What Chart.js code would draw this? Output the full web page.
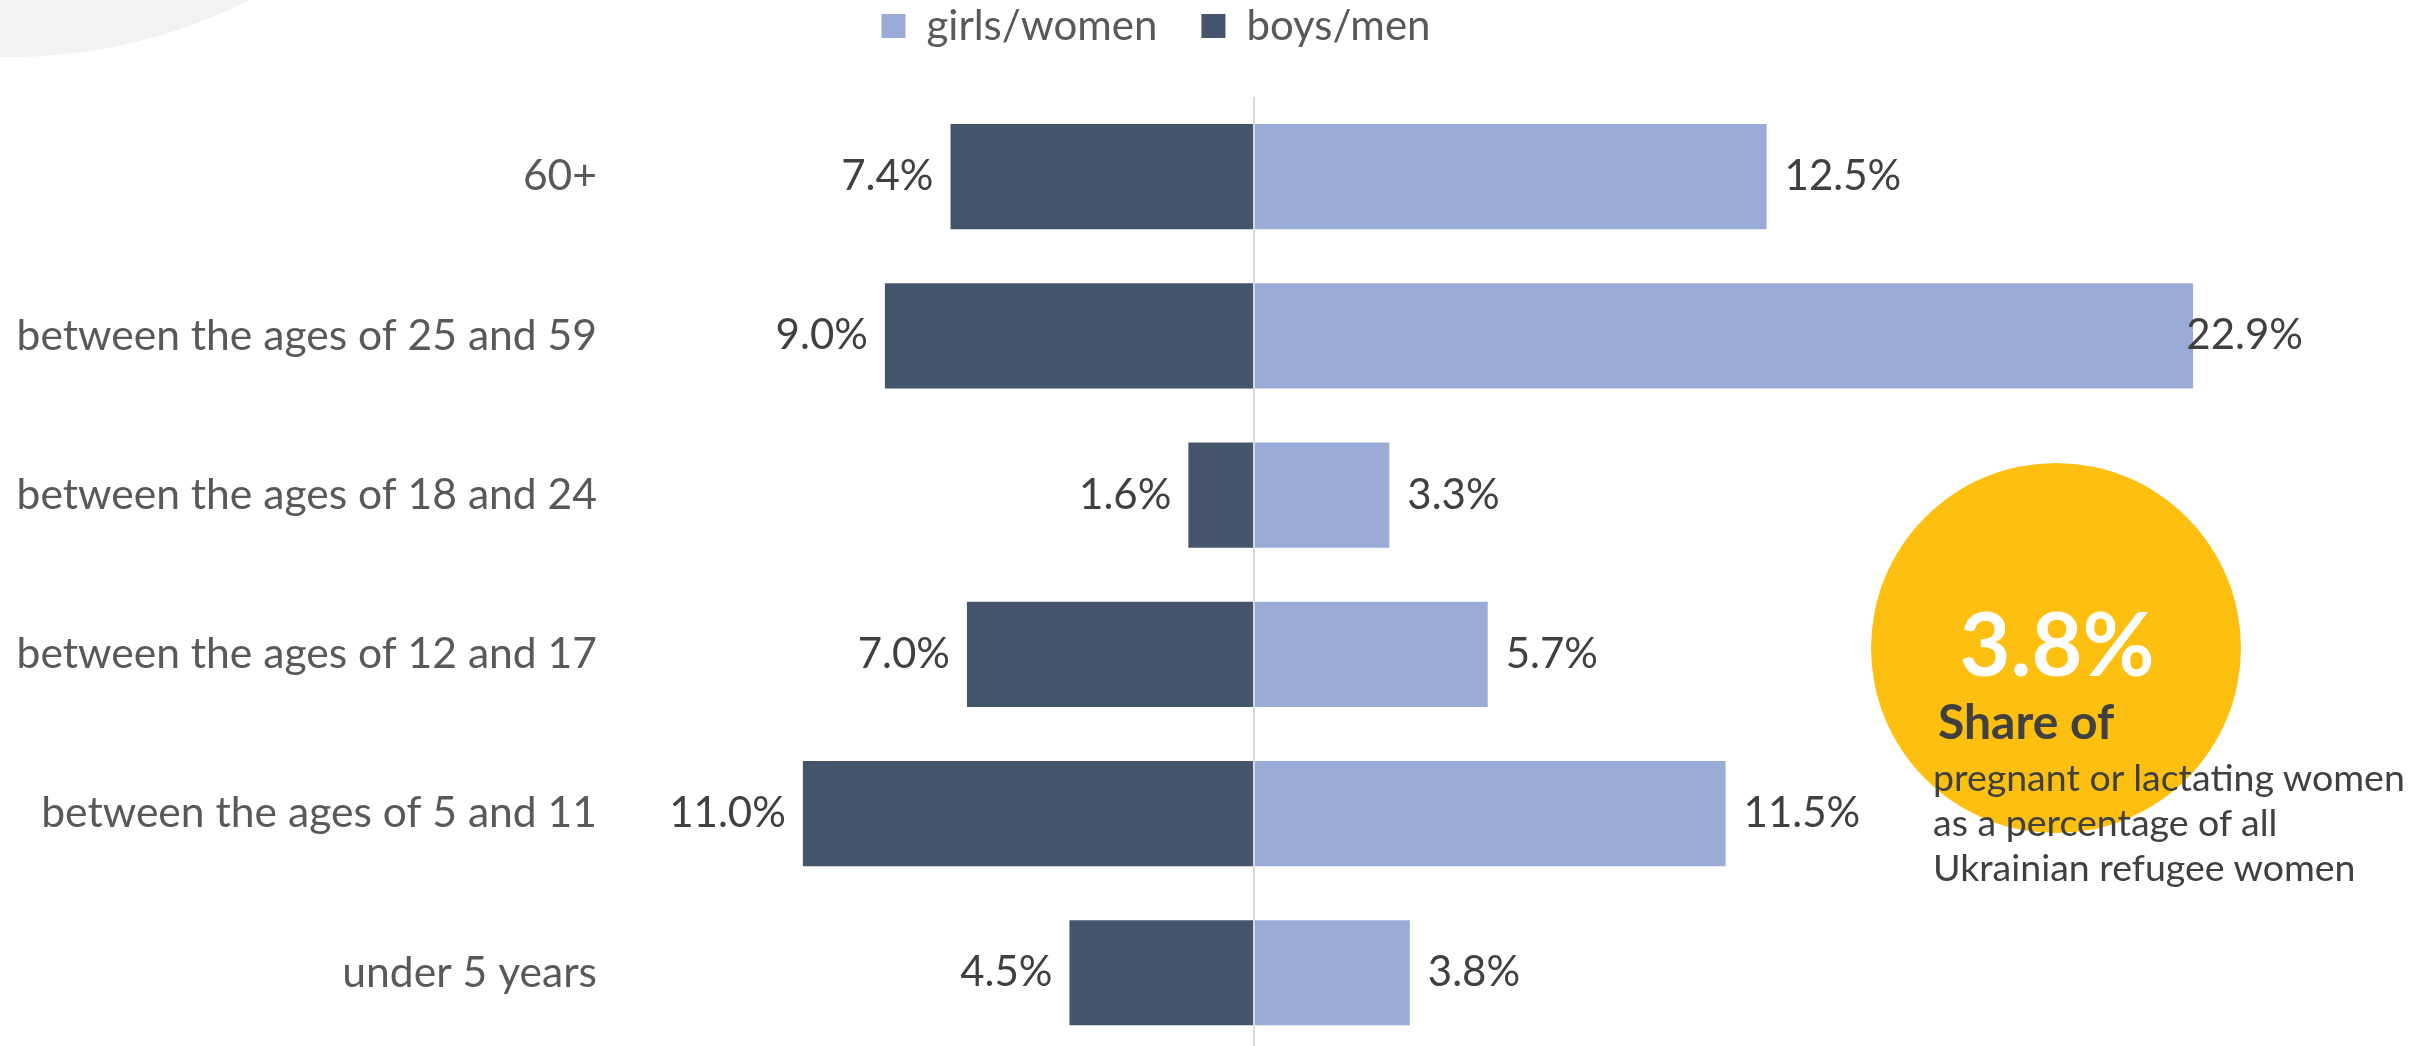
<!DOCTYPE html>
<html>
<head>
<meta charset="utf-8">
<script src="https://cdn.jsdelivr.net/npm/chart.js@4.4.1/dist/chart.umd.min.js"></script>
<style>
  html, body { margin: 0; padding: 0; background: #fff; }
  #page { position: relative; width: 2433px; height: 1046px; overflow: hidden; font-family: Lato, sans-serif; }
  #blob { position: absolute; left: -524px; top: -1011px; width: 1068px; height: 1068px; border-radius: 50%; background: #f2f2f2; }
  #chart { position: absolute; left: 0; top: 0; }
  #bubble { position: absolute; left: 1871px; top: 463px; width: 370px; height: 370px; border-radius: 50%; background: #fdbf10; }
  .note { position: absolute; white-space: nowrap; color: #404040; }
  #big { left: 1857px; top: 598px; width: 400px; text-align: center; font-size: 88px; line-height: 88px; font-weight: bold; color: #fff; }
  #share { left: 1938px; top: 697px; font-size: 48px; line-height: 48px; font-weight: bold; }
  #desc { left: 1933px; top: 754px; font-size: 37.5px; line-height: 45px; }
</style>
</head>
<body>
<div id="page">
  <div id="blob"></div>
  <canvas id="chart" width="2312" height="1101"></canvas>
  <div id="bubble"></div>
  <div class="note" id="big">3.8%</div>
  <div class="note" id="share">Share of</div>
  <div class="note" id="desc">pregnant or lactating women<br>as a percentage of all<br>Ukrainian refugee women</div>
</div>
<script>
const ageGroups = ["60+", "between the ages of 25 and 59", "between the ages of 18 and 24",
  "between the ages of 12 and 17", "between the ages of 5 and 11", "under 5 years"];
const girlsWomen = [12.5, 22.9, 3.3, 5.7, 11.5, 3.8];
const boysMen = [7.4, 9.0, 1.6, 7.0, 11.0, 4.5];

const valueLabels = {
  id: "valueLabels",
  afterDatasetsDraw(chart) {
    const ctx = chart.ctx;
    ctx.save();
    ctx.font = "42px Lato";
    ctx.fillStyle = "#404040";
    ctx.textBaseline = "middle";
    ctx.textAlign = "left";
    chart.data.datasets.forEach((ds, di) => {
      chart.getDatasetMeta(di).data.forEach((bar, i) => {
        const v = ds.data[i];
        const txt = Math.abs(v).toFixed(1) + "%";
        const w = ctx.measureText(txt).width;
        let x;
        if (v >= 0) x = Math.min(bar.x + 18, chart.chartArea.right - 9 - w);
        else x = bar.x - 17 - w;
        ctx.fillText(txt, x, bar.y);
      });
    });
    ctx.restore();
  }
};

new Chart(document.getElementById("chart"), {
  type: "bar",
  data: {
    labels: ageGroups,
    datasets: [
      { label: "girls/women", data: girlsWomen, backgroundColor: "#9aabd8", borderWidth: 0 },
      { label: "boys/men", data: boysMen.map(v => -v), backgroundColor: "#44546a", borderWidth: 0 }
    ]
  },
  options: {
    indexAxis: "y",
    responsive: false,
    devicePixelRatio: 1,
    animation: false,
    barPercentage: 0.66,
    categoryPercentage: 1,
    layout: { padding: { top: -39 } },
    plugins: {
      tooltip: { enabled: false },
      legend: {
        position: "top",
        labels: {
          font: { family: "Lato", size: 42 },
          color: "#595959",
          boxWidth: 24,
          boxHeight: 24,
          padding: 44
        }
      }
    },
    scales: {
      x: {
        position: "top",
        stacked: true,
        min: -15.46,
        max: 25.8,
        ticks: { display: false, stepSize: 5 },
        border: { display: false },
        grid: {
          z: 1,
          drawTicks: false,
          lineWidth: 2,
          color: c => c.tick && c.tick.value === 0 ? "#d9d9d9" : "rgba(0,0,0,0)"
        },
        afterFit: s => { s.height = 40; }
      },
      y: {
        stacked: true,
        border: { display: false },
        grid: { display: false, drawTicks: false },
        ticks: { font: { family: "Lato", size: 42.6 }, color: "#595959", padding: 23 },
        afterFit: s => { s.width = 620; }
      }
    }
  },
  plugins: [valueLabels]
});
</script>
</body>
</html>
